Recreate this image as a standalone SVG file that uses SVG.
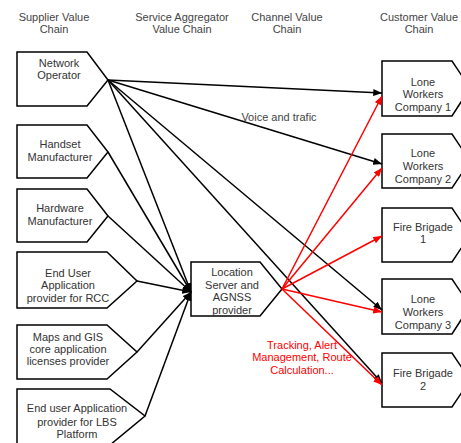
<svg xmlns="http://www.w3.org/2000/svg" width="461" height="443" viewBox="0 0 461 443">
<style>
.n{fill:#fff;stroke:#000;stroke-width:1.5;stroke-linejoin:miter}
text{font-family:"Liberation Sans",Arial,sans-serif;font-size:11px;fill:#333;text-anchor:middle}
.h{fill:#444}
.lk{stroke:#000;stroke-width:1.5;fill:none}
.lr{stroke:#f00;stroke-width:1.5;fill:none}
.red{fill:#f00}
</style>
<defs>
<marker id="ak" viewBox="0 0 10 8" refX="10" refY="4" markerWidth="9" markerHeight="7" orient="auto" markerUnits="userSpaceOnUse"><path d="M0,0L10,4L0,8z" fill="#000"/></marker>
<marker id="ar" viewBox="0 0 10 8" refX="10" refY="4" markerWidth="9" markerHeight="7" orient="auto" markerUnits="userSpaceOnUse"><path d="M0,0L10,4L0,8z" fill="#f00"/></marker>
</defs>
<g id="headers">
<text class="h" x="54" y="21">Supplier Value</text><text class="h" x="54" y="33">Chain</text>
<text class="h" x="182" y="21">Service Aggregator</text><text class="h" x="182" y="33">Value Chain</text>
<text class="h" x="287" y="21">Channel Value</text><text class="h" x="287" y="33">Chain</text>
<text class="h" x="419" y="21">Customer Value</text><text class="h" x="419" y="33">Chain</text>
</g>
<g id="network-operator"><path class="n" d="M17,52H87L108,80L87,106H17Z"/><text x="59" y="67">Network</text><text x="59" y="79">Operator</text></g>
<g id="handset"><path class="n" d="M17,125H87L108,152L87,178H17Z"/><text x="60" y="148">Handset</text><text x="60" y="161">Manufacturer</text></g>
<g id="hardware"><path class="n" d="M17,189H87L108,216L87,242H17Z"/><text x="60" y="212">Hardware</text><text x="60" y="225">Manufacturer</text></g>
<g id="rcc"><path class="n" d="M17,252H107L137,281L107,308H17Z"/><text x="68" y="277">End User</text><text x="68" y="289">Application</text><text x="68" y="302">provider for RCC</text></g>
<g id="maps"><path class="n" d="M17,325H107L137,352L107,379H17Z"/><text x="68" y="341">Maps and GIS</text><text x="68" y="353">core application</text><text x="68" y="365">licenses provider</text></g>
<g id="lbs"><path class="n" d="M17,389H110L145,416L110,445H17Z"/><text x="77" y="412">End user Application</text><text x="77" y="426">provider for LBS</text><text x="77" y="438">Platform</text></g>
<g id="location-server"><path class="n" d="M191,262H260L282,289L260,316H191Z"/><text x="232" y="276">Location</text><text x="232" y="289">Server and</text><text x="232" y="301">AGNSS</text><text x="232" y="314">provider</text></g>
<g id="lw1"><path class="n" d="M382,61H452L470,88L452,116H382Z"/><text x="423" y="86">Lone</text><text x="423" y="98">Workers</text><text x="423" y="111">Company 1</text></g>
<g id="lw2"><path class="n" d="M382,134H452L470,161L452,188H382Z"/><text x="423" y="157">Lone</text><text x="423" y="170">Workers</text><text x="423" y="183">Company 2</text></g>
<g id="fb1"><path class="n" d="M382,208H452L470,235L452,262H382Z"/><text x="423" y="231">Fire Brigade</text><text x="423" y="243">1</text></g>
<g id="lw3"><path class="n" d="M382,279H452L470,306L452,334H382Z"/><text x="423" y="303">Lone</text><text x="423" y="316">Workers</text><text x="423" y="329">Company 3</text></g>
<g id="fb2"><path class="n" d="M382,353H452L470,380L452,407H382Z"/><text x="423" y="377">Fire Brigade</text><text x="423" y="390">2</text></g>
<g id="connectors">
<line class="lk" x1="108" y1="80" x2="382" y2="93" marker-end="url(#ak)"/>
<line class="lk" x1="108" y1="80" x2="382" y2="164" marker-end="url(#ak)"/>
<line class="lk" x1="108" y1="80" x2="382" y2="310" marker-end="url(#ak)"/>
<line class="lk" x1="108" y1="80" x2="382" y2="383" marker-end="url(#ak)"/>
<line class="lk" x1="108" y1="80" x2="191" y2="292" marker-end="url(#ak)"/>
<line class="lk" x1="108" y1="152" x2="191" y2="292" marker-end="url(#ak)"/>
<line class="lk" x1="108" y1="216" x2="191" y2="292" marker-end="url(#ak)"/>
<line class="lk" x1="137" y1="281" x2="191" y2="292" marker-end="url(#ak)"/>
<line class="lk" x1="137" y1="352" x2="191" y2="292" marker-end="url(#ak)"/>
<line class="lk" x1="145" y1="416" x2="191" y2="292" marker-end="url(#ak)"/>
<line class="lr" x1="282" y1="289" x2="382" y2="96" marker-end="url(#ar)"/>
<line class="lr" x1="282" y1="289" x2="382" y2="168" marker-end="url(#ar)"/>
<line class="lr" x1="282" y1="289" x2="382" y2="236" marker-end="url(#ar)"/>
<line class="lr" x1="282" y1="289" x2="382" y2="312" marker-end="url(#ar)"/>
<line class="lr" x1="282" y1="289" x2="382" y2="385" marker-end="url(#ar)"/>
<text x="279" y="121" class="h">Voice and trafic</text>
<text class="red" x="302" y="349">Tracking, Alert</text>
<text class="red" x="302" y="361">Management, Route</text>
<text class="red" x="302" y="374">Calculation...</text>
</g>
</svg>
